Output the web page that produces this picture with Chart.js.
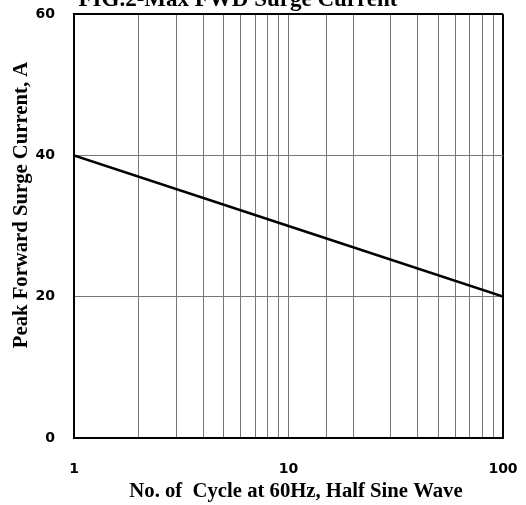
<!DOCTYPE html>
<html>
<head>
<meta charset="utf-8">
<script src="https://cdn.jsdelivr.net/npm/chart.js@4"></script>
<style>
  html, body { margin: 0; padding: 0; background: #fff; }
  #wrap { width: 526px; height: 505px; }
</style>
</head>
<body>
<div id="wrap"><canvas id="surgeChart" width="526" height="505"></canvas></div>
<script>
// Data
const cycles = [1, 10, 100];
const surgeCurrent = [40, 30, 20];
const yTicks = [0, 20, 40, 60];
const xLabels = [1, 10, 100];

const chartTitle = 'FIG.2-Max FWD Surge Current';
const xTitle = 'No. of  Cycle at 60Hz, Half Sine Wave';
const yTitle = 'Peak Forward Surge Current, A';

const serifBold = 'bold 20.7px "Liberation Serif", "Times New Roman", serif';
const tickFont = { family: '"DejaVu Sans", sans-serif', size: 14, weight: 'bold' };

// draw the titles at fixed spots like the original sheet
const titlePlugin = {
    id: 'titles',
    afterDraw(chart) {
        const ctx = chart.ctx;
        ctx.save();
        ctx.fillStyle = '#000';
        ctx.font = 'bold 23px "Liberation Serif", "Times New Roman", serif';
        ctx.textAlign = 'center';
        ctx.textBaseline = 'alphabetic';
        ctx.fillText(chartTitle, 238, 6);

        ctx.font = serifBold;
        ctx.fillText(xTitle, 296, 497);

        ctx.translate(27, 205);
        ctx.rotate(-Math.PI / 2);
        ctx.fillText(yTitle, 0, 0);
        ctx.restore();
    }
};

new Chart(document.getElementById('surgeChart').getContext('2d'), {
    type: 'line',
    data: {
        datasets: [{
            data: cycles.map((c, i) => ({ x: c, y: surgeCurrent[i] })),
            borderColor: '#000',
            borderWidth: 2.5,
            pointRadius: 0,
            fill: false,
            tension: 0
        }]
    },
    options: {
        responsive: false,
        animation: false,
        layout: { padding: { top: 14, right: 23, bottom: 0, left: 0 } },
        plugins: {
            legend: { display: false },
            tooltip: { enabled: false }
        },
        scales: {
            x: {
                type: 'logarithmic',
                min: 1,
                max: 100,
                afterFit: scale => {
                    scale.height = 67;
                    scale.paddingLeft = 0;
                    scale.paddingRight = 0;
                },
                border: { display: true, color: '#000', width: 2 },
                grid: {
                    drawTicks: false,
                    color: ctx => ctx.tick && ctx.tick.value === 100 ? '#000' : '#777',
                    lineWidth: ctx => ctx.tick && ctx.tick.value === 100 ? 2 : 1
                },
                ticks: {
                    autoSkip: false,
                    maxRotation: 0,
                    padding: 23,
                    color: '#000',
                    font: tickFont,
                    callback: value => xLabels.includes(value) ? String(value) : ''
                }
            },
            y: {
                min: 0,
                max: 60,
                afterFit: scale => {
                    scale.width = 74;
                    scale.paddingTop = 0;
                    scale.paddingBottom = 0;
                },
                afterBuildTicks: scale => { scale.ticks = yTicks.map(v => ({ value: v })); },
                border: { display: true, color: '#000', width: 2 },
                grid: {
                    drawTicks: false,
                    color: ctx => ctx.tick && ctx.tick.value === 60 ? '#000' : '#777',
                    lineWidth: ctx => ctx.tick && ctx.tick.value === 60 ? 2 : 1
                },
                ticks: {
                    padding: 19,
                    color: '#000',
                    font: tickFont
                }
            }
        }
    },
    plugins: [titlePlugin]
});
</script>
</body>
</html>
